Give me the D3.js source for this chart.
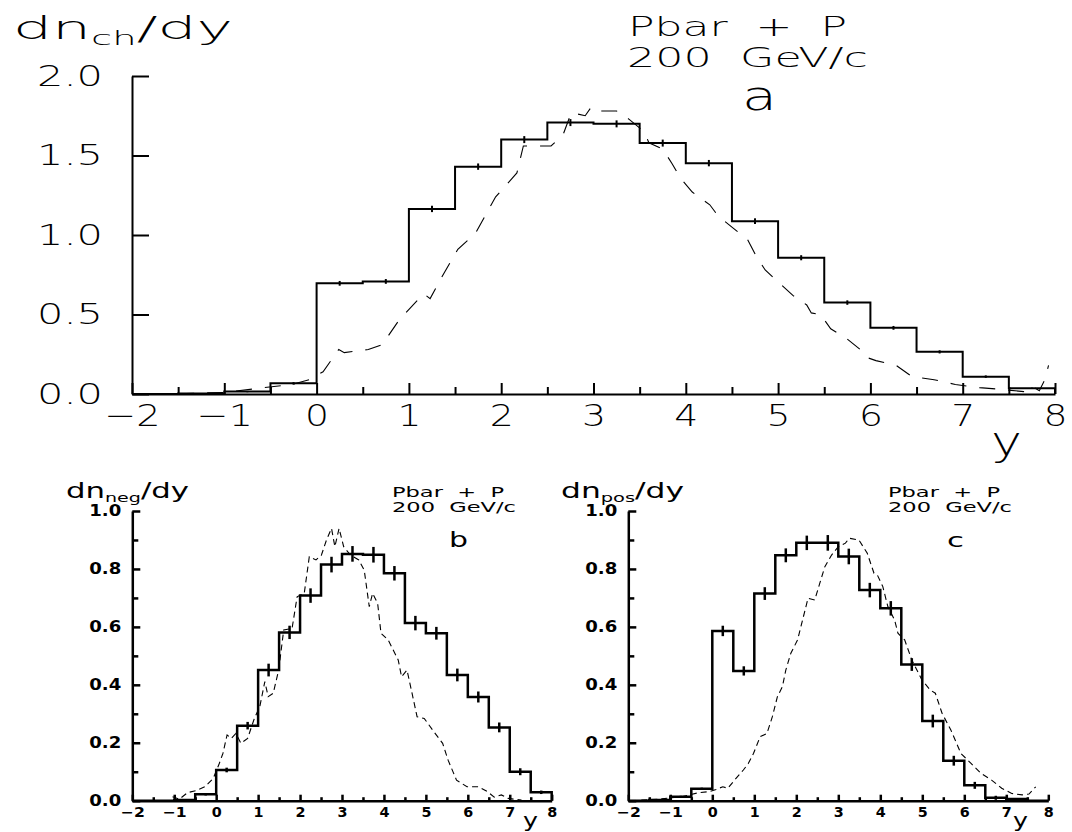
<!DOCTYPE html>
<html>
<head>
<meta charset="utf-8">
<script src="https://cdn.jsdelivr.net/npm/d3@7"></script>
<style>
  body { margin: 0; background: #fff; }
  svg { display: block; }
  text { fill: #000; white-space: pre; }
</style>
</head>
<body>
<svg id="chart" width="1072" height="832"></svg>
<script>
// bin edges (rapidity y), shared by all three histograms
var binEdges = [-2, -1.5, -1, -0.5, 0, 0.5, 1, 1.5, 2, 2.5, 3, 3.5, 4, 4.5, 5, 5.5, 6, 6.5, 7, 7.5, 8];

// a) charged particles
var chValues = [0, 0.003, 0.015, 0.067, 0.696, 0.708, 1.164, 1.43, 1.60, 1.707, 1.699, 1.578, 1.452, 1.087, 0.857, 0.575, 0.416, 0.265, 0.109, 0.036];
var chErrors = [0, 0.002, 0.004, 0.008, 0.015, 0.015, 0.02, 0.02, 0.022, 0.022, 0.022, 0.022, 0.02, 0.018, 0.016, 0.014, 0.012, 0.01, 0.008, 0.004];
var chModelX = [-1.5, -1.0, -0.57, -0.27, -0.08, 0.07, 0.24, 0.3, 0.56, 0.71, 0.9, 1.16, 1.23, 1.38, 1.53, 1.72, 1.94, 2.17, 2.24, 2.4, 2.54, 2.67, 2.76, 2.91, 2.97, 3.0, 3.25, 3.38, 3.55, 3.6, 3.75, 3.85, 3.94, 4.07, 4.26, 4.35, 4.52, 4.67, 4.76, 4.86, 5.01, 5.16, 5.31, 5.36, 5.46, 5.57, 5.74, 5.91, 5.96, 6.06, 6.28, 6.45, 6.69, 6.92, 7.18, 7.4, 7.66, 7.75, 7.83, 7.89, 7.93];
var chModelY = [0.002, 0.01, 0.04, 0.06, 0.09, 0.14, 0.28, 0.26, 0.28, 0.31, 0.47, 0.63, 0.6, 0.76, 0.91, 1.01, 1.24, 1.39, 1.56, 1.56, 1.56, 1.63, 1.77, 1.75, 1.80, 1.78, 1.78, 1.73, 1.65, 1.58, 1.54, 1.45, 1.36, 1.27, 1.19, 1.12, 1.04, 0.97, 0.87, 0.78, 0.70, 0.62, 0.56, 0.51, 0.50, 0.41, 0.35, 0.27, 0.23, 0.21, 0.18, 0.11, 0.09, 0.06, 0.04, 0.03, 0.015, 0.05, 0.02, 0.09, 0.18];

// b) negative particles
var negValues = [0, 0, 0.002, 0.022, 0.106, 0.259, 0.451, 0.581, 0.708, 0.815, 0.852, 0.849, 0.785, 0.613, 0.578, 0.434, 0.358, 0.253, 0.100, 0.029];
var negErrors = [0, 0, 0.002, 0.004, 0.008, 0.013, 0.022, 0.023, 0.025, 0.027, 0.027, 0.027, 0.025, 0.025, 0.022, 0.022, 0.019, 0.017, 0.012, 0.006];
var negModelX = [-1.04, -0.88, -0.68, -0.47, -0.27, -0.07, 0.06, 0.16, 0.26, 0.36, 0.47, 0.59, 0.75, 0.91, 1.04, 1.16, 1.24, 1.36, 1.49, 1.61, 1.81, 1.93, 2.10, 2.22, 2.38, 2.51, 2.63, 2.75, 2.83, 2.93, 3.04, 3.20, 3.40, 3.53, 3.65, 3.73, 3.85, 3.93, 4.10, 4.34, 4.42, 4.55, 4.67, 4.79, 4.96, 5.16, 5.40, 5.53, 5.73, 5.98, 6.26, 6.47, 6.63, 6.80, 6.96, 7.28];
var negModelY = [0.014, 0.005, 0.028, 0.035, 0.048, 0.077, 0.123, 0.163, 0.227, 0.215, 0.232, 0.198, 0.215, 0.284, 0.325, 0.411, 0.359, 0.371, 0.451, 0.589, 0.595, 0.704, 0.716, 0.842, 0.831, 0.848, 0.900, 0.940, 0.877, 0.940, 0.877, 0.848, 0.831, 0.796, 0.670, 0.716, 0.681, 0.578, 0.555, 0.486, 0.428, 0.451, 0.371, 0.290, 0.284, 0.244, 0.198, 0.140, 0.071, 0.048, 0.048, 0.031, 0.012, 0.020, 0.008, 0.002];

// c) positive particles
var posValues = [0, 0.002, 0.014, 0.041, 0.586, 0.448, 0.715, 0.847, 0.890, 0.890, 0.843, 0.727, 0.664, 0.470, 0.275, 0.138, 0.053, 0.010, 0.006, 0];
var posErrors = [0, 0, 0.003, 0.004, 0.018, 0.016, 0.022, 0.024, 0.025, 0.027, 0.027, 0.025, 0.025, 0.022, 0.022, 0.017, 0.012, 0.007, 0.003, 0.002];
var posModelX = [-1.69, -1.29, -0.72, -0.32, -0.08, 0.09, 0.25, 0.37, 0.53, 0.74, 0.86, 0.98, 1.14, 1.30, 1.43, 1.55, 1.67, 1.75, 1.87, 2.03, 2.15, 2.28, 2.44, 2.56, 2.68, 2.84, 3.00, 3.17, 3.26, 3.49, 3.69, 3.85, 3.93, 4.06, 4.18, 4.34, 4.42, 4.58, 4.75, 4.99, 5.19, 5.31, 5.47, 5.68, 5.92, 6.16, 6.40, 6.65, 6.89, 7.13, 7.38, 7.54, 7.70];
var posModelY = [0.002, 0.005, 0.014, 0.028, 0.031, 0.039, 0.048, 0.043, 0.071, 0.106, 0.129, 0.163, 0.221, 0.232, 0.290, 0.359, 0.394, 0.451, 0.509, 0.555, 0.624, 0.699, 0.693, 0.751, 0.808, 0.848, 0.877, 0.889, 0.906, 0.900, 0.854, 0.785, 0.779, 0.739, 0.670, 0.624, 0.578, 0.555, 0.486, 0.417, 0.382, 0.371, 0.302, 0.244, 0.163, 0.129, 0.094, 0.071, 0.043, 0.025, 0.020, 0.023, 0.048];

// tick values
var xTicks = [-2, -1, 0, 1, 2, 3, 4, 5, 6, 7, 8];
var xHalfTicks = [-1.5, -0.5, 0.5, 1.5, 2.5, 3.5, 4.5, 5.5, 6.5, 7.5];
var topYTicks = [0, 0.5, 1.0, 1.5, 2.0];
var smallYTicks = [0, 0.2, 0.4, 0.6, 0.8, 1.0];
var smallYMinor = [0.1, 0.3, 0.5, 0.7, 0.9];

var svg = d3.select("#chart");
var thin = "'DejaVu Sans', sans-serif";

// outline of a histogram as a list of [x, y] points
function histPoints(values) {
  var pts = [[binEdges[0], 0]];
  values.forEach(function (v, i) {
    pts.push([binEdges[i], v]);
    pts.push([binEdges[i + 1], v]);
  });
  pts.push([binEdges[binEdges.length - 1], 0]);
  return pts;
}

// text with optional subscript, stretched to a given width
function label(parts, x, y, width, weight) {
  var t = svg.append("text")
      .attr("x", x).attr("y", y)
      .attr("font-family", thin)
      .attr("font-weight", weight || 200)
      .attr("textLength", width)
      .attr("lengthAdjust", "spacingAndGlyphs");
  parts.forEach(function (p) {
    t.append("tspan")
      .attr("font-size", p[1])
      .attr("dy", p[2] || 0)
      .text(p[0]);
  });
  return t;
}

function drawPanel(p) {
  var x = d3.scaleLinear().domain([-2, 8]).range(p.xRange);
  var y = d3.scaleLinear().domain([0, p.yMax]).range(p.yRange);
  var g = svg.append("g");

  // model curve (dashed)
  var model = d3.line()
      .x(function (d) { return x(d[0]); })
      .y(function (d) { return y(d[1]); });
  g.append("path")
      .datum(d3.zip(p.modelX, p.modelY))
      .attr("fill", "none")
      .attr("stroke", "#000")
      .attr("stroke-width", 1.1)
      .attr("stroke-dasharray", p.dash)
      .attr("d", model);

  // data histogram
  g.append("path")
      .datum(histPoints(p.values))
      .attr("fill", "none")
      .attr("stroke", "#000")
      .attr("stroke-width", p.lw)
      .attr("d", model);

  // error bars at bin centres
  g.selectAll(".err")
      .data(p.values)
      .enter().append("line")
      .attr("class", "err")
      .attr("x1", function (d, i) { return x((binEdges[i] + binEdges[i + 1]) / 2); })
      .attr("x2", function (d, i) { return x((binEdges[i] + binEdges[i + 1]) / 2); })
      .attr("y1", function (d, i) { return y(d - p.errors[i]); })
      .attr("y2", function (d, i) { return y(d + p.errors[i]); })
      .attr("stroke", "#000")
      .attr("stroke-width", p.lw);

  // x axis: half-unit ticks, then labelled unit ticks
  var xBase = p.yRange[0];
  g.append("g")
      .attr("transform", "translate(0," + xBase + ")")
      .call(d3.axisBottom(x).tickValues(xHalfTicks).tickSize(-p.xMinorLen).tickSizeOuter(0).tickFormat(""))
      .call(function (a) { a.select(".domain").remove(); });
  var xa = g.append("g")
      .attr("transform", "translate(0," + xBase + ")")
      .call(d3.axisBottom(x).tickValues(xTicks).tickSize(-p.xMajorLen).tickSizeOuter(0));
  xa.selectAll("text")
      .attr("y", p.xLabelBase).attr("dy", null)
      .attr("font-family", thin)
      .attr("font-size", p.xFont)
      .attr("font-weight", p.tickWeight)
      .attr("textLength", function (d) { return d < 0 ? p.xLabelW2 : p.xLabelW1; })
      .attr("lengthAdjust", "spacingAndGlyphs");

  // y axis
  if (p.yMinor) {
    g.append("g")
        .attr("transform", "translate(" + p.xRange[0] + ",0)")
        .call(d3.axisLeft(y).tickValues(p.yMinor).tickSize(-p.yMinorLen).tickSizeOuter(0).tickFormat(""))
        .call(function (a) { a.select(".domain").remove(); });
  }
  var ya = g.append("g")
      .attr("transform", "translate(" + p.xRange[0] + ",0)")
      .call(d3.axisLeft(y).tickValues(p.yTicks).tickSize(-p.yMajorLen).tickSizeOuter(0)
        .tickPadding(p.yPad).tickFormat(d3.format(".1f")));
  ya.selectAll("text")
      .attr("font-family", thin)
      .attr("font-size", p.yFont)
      .attr("font-weight", p.tickWeight)
      .attr("textLength", p.yLabelW)
      .attr("lengthAdjust", "spacingAndGlyphs");

  g.selectAll(".domain, .tick line")
      .attr("stroke", "#000")
      .attr("stroke-width", p.lw);
}

// panel a
drawPanel({
  xRange: [132, 1055], yRange: [394, 76], yMax: 2,
  values: chValues, errors: chErrors, modelX: chModelX, modelY: chModelY,
  dash: "16,13", lw: 2,
  xMinorLen: 7, xMajorLen: 11, xLabelBase: 32, xFont: 31, xLabelW1: 24, xLabelW2: 56,
  yTicks: topYTicks, yMajorLen: 17, yPad: 29, yFont: 29, yLabelW: 66,
  tickWeight: 200
});

// panel b
drawPanel({
  xRange: [132.3, 551.7], yRange: [800.7, 511], yMax: 1,
  values: negValues, errors: negErrors, modelX: negModelX, modelY: negModelY,
  dash: "6,4", lw: 2.5,
  xMinorLen: 3.5, xMajorLen: 6, xLabelBase: 16, xFont: 14, xLabelW1: 10, xLabelW2: 24,
  yTicks: smallYTicks, yMinor: smallYMinor, yMajorLen: 8, yMinorLen: 6, yPad: 11, yFont: 15, yLabelW: 32,
  tickWeight: "bold"
});

// panel c
drawPanel({
  xRange: [628.3, 1048.3], yRange: [800.7, 511], yMax: 1,
  values: posValues, errors: posErrors, modelX: posModelX, modelY: posModelY,
  dash: "6,4", lw: 2.5,
  xMinorLen: 3.5, xMajorLen: 6, xLabelBase: 16, xFont: 14, xLabelW1: 10, xLabelW2: 24,
  yTicks: smallYTicks, yMinor: smallYMinor, yMajorLen: 8, yMinorLen: 6, yPad: 11, yFont: 15, yLabelW: 32,
  tickWeight: "bold"
});

// panel a texts
label([["dn", 32], ["ch", 20, 6], ["/dy", 32, -6]], 13, 39, 220);
label([["Pbar  +  P", 26]], 628, 36, 219);
label([["200  GeV/c", 26]], 627, 67, 241);
label([["a", 40]], 742, 110, 35);
label([["y", 40]], 991, 455, 31);

// panel b texts
label([["dn", 21], ["neg", 13, 4], ["/dy", 21, -4]], 66, 498, 123, "normal");
label([["Pbar  +  P", 14]], 392, 497, 112, "normal");
label([["200  GeV/c", 14]], 392, 512, 124, "normal");
label([["b", 22]], 449, 547, 19, "normal");
label([["y", 19]], 523, 827, 15, "normal");

// panel c texts
label([["dn", 21], ["pos", 13, 4], ["/dy", 21, -4]], 561, 498, 123, "normal");
label([["Pbar  +  P", 14]], 888, 497, 112, "normal");
label([["200  GeV/c", 14]], 888, 512, 124, "normal");
label([["c", 20]], 947, 547, 17, "normal");
label([["y", 19]], 1013, 827, 15, "normal");
</script>
</body>
</html>
